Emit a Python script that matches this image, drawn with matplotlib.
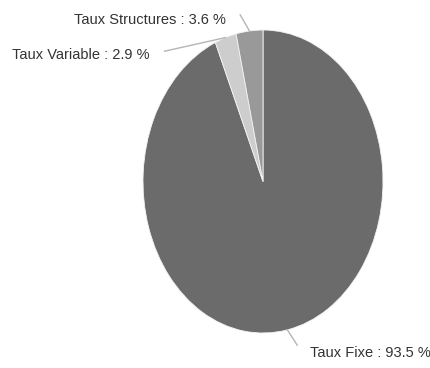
import numpy as np
import matplotlib.pyplot as plt
from matplotlib import font_manager

nombres = sorted({f.name for f in font_manager.fontManager.ttflist})
print(nombres)
plt.rcParams['font.family'] = ['DejaVu Sans Condensed', 'Liberation Sans', 'DejaVu Sans']

etiquetas = ['Taux Fixe', 'Taux Variable', 'Taux Structures']
valores = [93.5, 2.9, 3.6]
colores = ['#6b6b6b', '#cdcdcd', '#999999']

fig = plt.figure(figsize=(4.30, 3.68), dpi=100)
# la torta es una elipse, mas alta que ancha
ax = fig.add_axes([143 / 430, 35 / 368, 240 / 430, 303 / 368])
cunas, _ = ax.pie(valores, colors=colores, startangle=90, counterclock=False,
                  radius=1, wedgeprops=dict(edgecolor='#f4f4f4', linewidth=0.6))
ax.set_aspect('auto')
ax.set_xlim(-1, 1)
ax.set_ylim(-1, 1)
ax.axis('off')

# donde va cada texto (coordenadas de datos) y punta de la linea
pos_texto = [(0.39, -1.13), (-0.945, 0.835), (-0.31, 1.066)]
pos_linea = [(0.285, -1.08), (-0.82, 0.86), (-0.19, 1.10)]
alineacion = ['left', 'right', 'right']

for cuna, lab, val, pt, pl, ha in zip(cunas, etiquetas, valores, pos_texto, pos_linea, alineacion):
    ang = np.deg2rad((cuna.theta1 + cuna.theta2) / 2)
    x0, y0 = np.cos(ang), np.sin(ang)
    ax.plot([x0, pl[0]], [y0, pl[1]], color='#b5b5b5', lw=1, clip_on=False)
    ax.text(pt[0], pt[1], '{} : {} %'.format(lab, val), ha=ha, va='center',
            fontsize=10.5, color='#333333', clip_on=False)

fig.savefig('out.png', dpi=100, facecolor='white')
